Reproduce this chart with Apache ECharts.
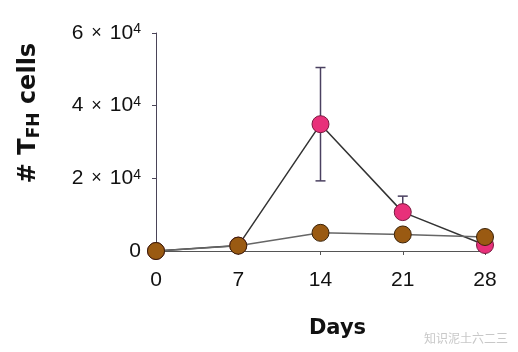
<!DOCTYPE html>
<html><head><meta charset="utf-8">
<script src="https://cdn.jsdelivr.net/npm/echarts@6/dist/echarts.min.js"></script>
<style>html,body{margin:0;padding:0;background:#fff}#c{width:518px;height:352px}</style>
</head><body><div id="c"></div>
<script>
var days = [0, 7, 14, 21, 28];
var pinkValues = [0, 1500, 34900, 10700, 1650];
var brownValues = [0, 1460, 5000, 4550, 3850];
// [day, lower, upper]
var pinkErrors = [[14, 19300, 50500], [21, 10700, 15100]];
var yTickLabels = {0: '0', 20000: '2', 40000: '4', 60000: '6'};

var chart = echarts.init(document.getElementById('c'));
var FONT = 'Liberation Sans, Arial, sans-serif';
var BOLD = 'DejaVu Sans, sans-serif';
chart.setOption({
  backgroundColor: '#fff',
  animation: false,
  grid: {left: 156, right: 33, top: 33, bottom: 101},
  xAxis: {
    type: 'value', min: 0, max: 28, interval: 7,
    axisLine: {lineStyle: {color: '#555', width: 1}},
    axisTick: {show: true, length: 4, lineStyle: {color: '#555'}},
    splitLine: {show: false},
    axisLabel: {color: '#111', fontSize: 21, fontFamily: FONT, margin: 19},
    name: 'Days', nameLocation: 'middle', nameGap: 67,
    nameTextStyle: {color: '#111', fontSize: 21, fontWeight: 'bold', fontFamily: BOLD, padding: [0, 0, 0, 34]}
  },
  yAxis: {
    type: 'value', min: 0, max: 60000, interval: 20000,
    axisLine: {show: true, lineStyle: {color: '#4a4458', width: 1}},
    axisTick: {show: true, length: 4, lineStyle: {color: '#4a4458'}},
    splitLine: {show: false},
    axisLabel: {
      margin: 15,
      formatter: function (v) {
        if (v === 0) return '{a|0}';
        return '{a|' + yTickLabels[v] + '}{x| × }{a|10}{s|4}';
      },
      rich: {
        a: {color: '#111', fontSize: 21, fontFamily: FONT},
        x: {color: '#111', fontSize: 18, fontFamily: FONT, padding: [0, 3, 0, 3]},
        s: {color: '#111', fontSize: 14, fontFamily: FONT, padding: [0, 0, 7, 0]}
      }
    },
    name: '{b|# T}{sub|FH}{b| cells}', nameLocation: 'middle', nameGap: 113, nameRotate: 90,
    nameTextStyle: {
      padding: [0, 0, 0, 58],
      rich: {
        b: {color: '#111', fontSize: 24, fontWeight: 'bold', fontFamily: BOLD},
        sub: {color: '#111', fontSize: 17, fontWeight: 'bold', fontFamily: BOLD, padding: [12, 0, 0, 0]}
      }
    }
  },
  series: [
    {
      type: 'custom', z: 2,
      data: pinkErrors,
      renderItem: function (params, api) {
        var x = api.value(0);
        var lo = api.coord([x, api.value(1)]);
        var hi = api.coord([x, api.value(2)]);
        var w = 5;
        var st = {stroke: '#4a4060', lineWidth: 1.5};
        var children = [
          {type: 'line', shape: {x1: hi[0], y1: hi[1], x2: lo[0], y2: lo[1]}, style: st},
          {type: 'line', shape: {x1: hi[0] - w, y1: hi[1], x2: hi[0] + w, y2: hi[1]}, style: st}
        ];
        if (Math.abs(lo[1] - api.coord([x, pinkValues[days.indexOf(x)]])[1]) > 1) {
          children.push({type: 'line', shape: {x1: lo[0] - w, y1: lo[1], x2: lo[0] + w, y2: lo[1]}, style: st});
        }
        return {type: 'group', children: children};
      }
    },
    {
      type: 'line', z: 3,
      data: days.map(function (d, i) { return [d, pinkValues[i]]; }),
      symbol: 'circle', symbolSize: 17,
      lineStyle: {color: '#333', width: 1.5},
      itemStyle: {color: '#e8307a', borderColor: '#7a1a40', borderWidth: 1}
    },
    {
      type: 'line', z: 4,
      data: days.map(function (d, i) { return [d, brownValues[i]]; }),
      symbol: 'circle', symbolSize: 17,
      lineStyle: {color: '#666', width: 1.5},
      itemStyle: {color: '#9a5a12', borderColor: '#3a2208', borderWidth: 1}
    }
  ],
  graphic: [{
    type: 'text', right: 10, bottom: 8,
    style: {text: '知识泥土六二三', fill: '#c8c8c8', fontSize: 12, fontFamily: 'Noto Sans CJK SC'}
  }]
});
</script></body></html>
